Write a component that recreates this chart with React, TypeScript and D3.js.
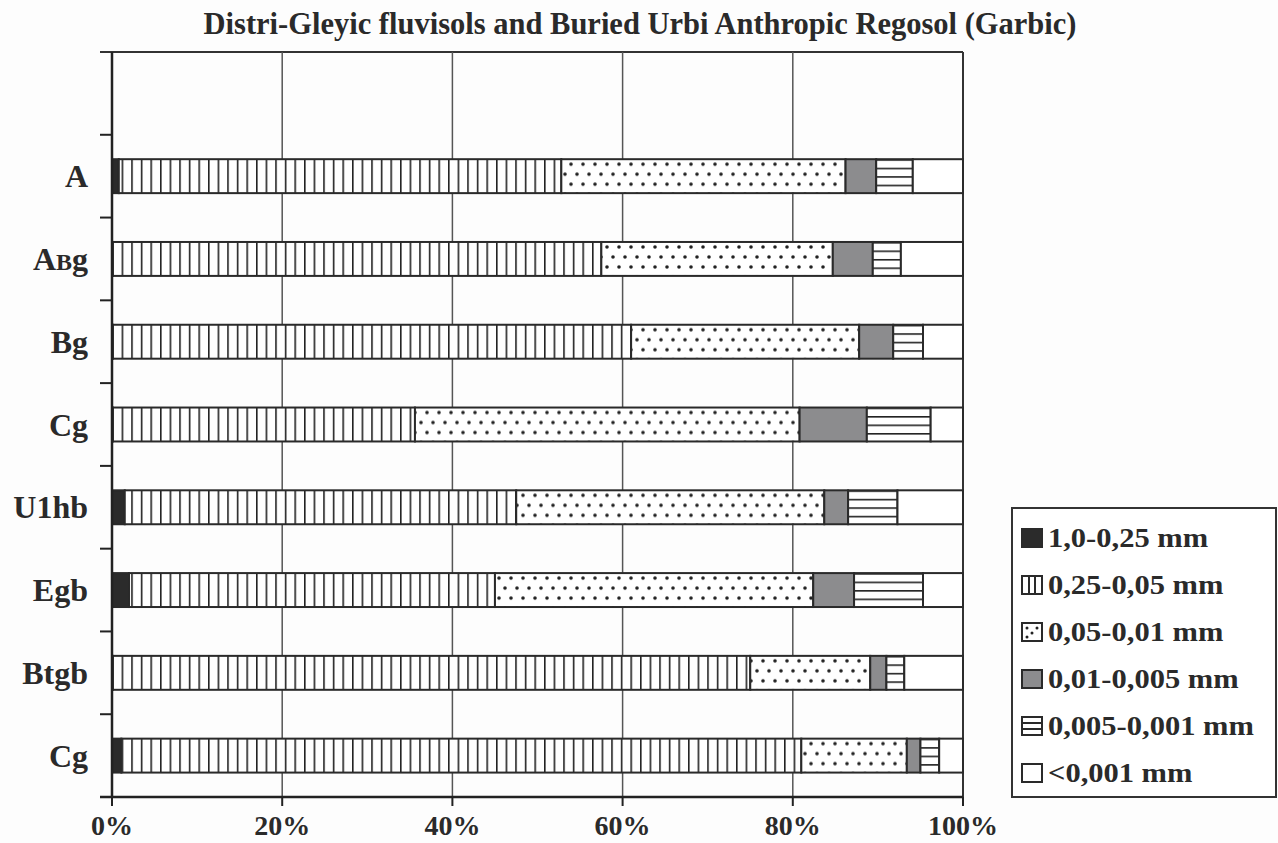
import * as d3 from 'd3';

// horizons (top band is left empty in the original)
const horizons = ['', 'A', 'ABg', 'Bg', 'Cg', 'U1hb', 'Egb', 'Btgb', 'Cg'];

const fractions = ['1,0-0,25 mm', '0,25-0,05 mm', '0,05-0,01 mm', '0,01-0,005 mm', '0,005-0,001 mm', '<0,001 mm'];

// percent of each fraction per horizon
const fr1 = [0, 0.8, 0.1, 0.1, 0.1, 1.5, 2.0, 0.1, 1.1];
const fr2 = [0, 52.0, 57.4, 60.9, 35.5, 46.0, 43.0, 74.9, 79.9];
const fr3 = [0, 33.4, 27.2, 26.8, 45.2, 36.2, 37.4, 14.1, 12.4];
const fr4 = [0, 3.6, 4.7, 4.0, 7.9, 2.8, 4.8, 1.9, 1.6];
const fr5 = [0, 4.3, 3.3, 3.5, 7.5, 5.8, 8.1, 2.1, 2.2];
const xTicks = [0, 20, 40, 60, 80, 100];

const W = 1278;
const H = 843;
const fills = ['#2b2b2b', 'url(#vstripe)', 'dots', '#8c8c8e', 'hstripe', '#ffffff'];

export default function App() {
  const x = d3.scaleLinear().domain([0, 100]).range([112, 963]);
  const y = d3.scaleBand<number>()
    .domain(horizons.map((_, i) => i))
    .range([52, 797])
    .paddingInner(0.59)
    .paddingOuter(0.295);
  const step = y.step();
  const bh = y.bandwidth();

  const rows = horizons.map((name, i) => {
    const vals = [fr1[i], fr2[i], fr3[i], fr4[i], fr5[i]];
    const total = d3.sum(vals);
    const all = name ? [...vals, 100 - total] : [];
    let acc = 0;
    const segs = all.map((v, k) => {
      const s = { k, x0: acc, x1: acc + v };
      acc += v;
      return s;
    });
    return { name, i, segs };
  });

  const font = '"Liberation Serif", "Times New Roman", serif';
  const legendY0 = 538;
  const legendStep = 47;
  const ink = '#2a2a2a';

  return (
    <svg width={W} height={H} style={{ position: 'absolute', left: 0, top: 0, background: '#fdfdfd' }} fontFamily={font}>
      <defs>
        <pattern id="vstripe" patternUnits="userSpaceOnUse" x={x(0)} width={9.6} height={10}>
          <rect width={9.6} height={10} fill="#fff" />
          <line x1={0} x2={0} y1={0} y2={10} stroke="#222" strokeWidth={3.2} />
        </pattern>
        {rows.map(r => (
          <g key={'p' + r.i}>
            <pattern id={`dots-${r.i}`} patternUnits="userSpaceOnUse" x={x(0)} y={y(r.i)} width={12} height={20}>
              <rect width={12} height={20} fill="#fff" />
              <circle cx={3} cy={5} r={1.8} fill="#222" />
              <circle cx={9} cy={15} r={1.8} fill="#222" />
            </pattern>
            <pattern id={`hstripe-${r.i}`} patternUnits="userSpaceOnUse" x={0} y={y(r.i)} width={20} height={bh / 4}>
              <rect width={20} height={bh / 4} fill="#fff" />
              <line x1={0} x2={20} y1={0} y2={0} stroke="#222" strokeWidth={3.2} />
            </pattern>
          </g>
        ))}
      </defs>

      {/* title */}
      <text x={640} y={34} textAnchor="middle" fontSize={30.5} fontWeight="bold" fill={ink}>
        Distri-Gleyic fluvisols and Buried Urbi Anthropic Regosol (Garbic)
      </text>

      {/* frame and grid */}
      <line x1={x(0) - 12} x2={x(100)} y1={52} y2={52} stroke="#333" strokeWidth={2} />
      <line x1={x(100)} x2={x(100)} y1={52} y2={797} stroke="#333" strokeWidth={2} />
      {xTicks.slice(1, -1).map(t => (
        <line key={'g' + t} x1={x(t)} x2={x(t)} y1={52} y2={797} stroke="#555" strokeWidth={1.5} />
      ))}

      {/* bars */}
      {rows.map(r => (
        <g key={'r' + r.i}>
          {r.segs.filter(s => s.x1 - s.x0 > 0.05).map(s => {
            let f = fills[s.k];
            if (f === 'dots') f = `url(#dots-${r.i})`;
            if (f === 'hstripe') f = `url(#hstripe-${r.i})`;
            return (
              <rect key={s.k} x={x(s.x0)} y={y(r.i)} width={x(s.x1) - x(s.x0)} height={bh}
                fill={f} stroke={ink} strokeWidth={2} />
            );
          })}
        </g>
      ))}

      {/* axes */}
      <line x1={x(0)} x2={x(0)} y1={52} y2={797} stroke="#222" strokeWidth={2.5} />
      <line x1={x(0) - 12} x2={x(100)} y1={797} y2={797} stroke="#222" strokeWidth={2.5} />
      {d3.range(1, horizons.length).map(k => (
        <line key={'yt' + k} x1={x(0) - 12} x2={x(0)} y1={52 + k * step} y2={52 + k * step} stroke="#222" strokeWidth={2} />
      ))}
      {xTicks.map(t => (
        <g key={'xt' + t}>
          <line x1={x(t)} x2={x(t)} y1={797} y2={806} stroke="#222" strokeWidth={2} />
          <text x={x(t)} y={835} textAnchor="middle" fontSize={28} fontWeight="bold" fill={ink}>{t}%</text>
        </g>
      ))}
      {rows.filter(r => r.name).map(r => (
        <text key={'yl' + r.i} x={88} y={y(r.i)! + bh / 2 + 11} textAnchor="end" fontSize={32} fontWeight="bold" fill={ink}>
          {r.name === 'ABg' ? (<><tspan>A</tspan><tspan fontSize={24}>B</tspan><tspan>g</tspan></>) : r.name}
        </text>
      ))}

      {/* legend */}
      <rect x={1012} y={508} width={264} height={289} fill="#fff" stroke="#333" strokeWidth={2} />
      {fractions.map((f, k) => {
        const cy = legendY0 + k * legendStep;
        const fill = fills[k];
        return (
          <g key={'lg' + k}>
            {k === 2 ? (
              <g>
                <rect x={1022} y={cy - 9} width={20} height={18} fill="#fff" stroke={ink} strokeWidth={2} />
                <circle cx={1027} cy={cy - 4} r={1.5} fill="#222" />
                <circle cx={1037} cy={cy - 4} r={1.5} fill="#222" />
                <circle cx={1032} cy={cy + 1} r={1.5} fill="#222" />
                <circle cx={1027} cy={cy + 5} r={1.5} fill="#222" />
              </g>
            ) : k === 4 ? (
              <g>
                <rect x={1022} y={cy - 9} width={20} height={18} fill="#fff" stroke={ink} strokeWidth={2} />
                <line x1={1022} x2={1042} y1={cy - 3} y2={cy - 3} stroke={ink} strokeWidth={2} />
                <line x1={1022} x2={1042} y1={cy + 3} y2={cy + 3} stroke={ink} strokeWidth={2} />
              </g>
            ) : k === 1 ? (
              <g>
                <rect x={1022} y={cy - 9} width={20} height={18} fill="#fff" stroke={ink} strokeWidth={2} />
                <line x1={1029} x2={1029} y1={cy - 9} y2={cy + 9} stroke={ink} strokeWidth={2} />
                <line x1={1035} x2={1035} y1={cy - 9} y2={cy + 9} stroke={ink} strokeWidth={2} />
              </g>
            ) : (
              <rect x={1022} y={cy - 9} width={20} height={18} fill={fill} stroke={ink} strokeWidth={2} />
            )}
            <text transform={`translate(1048,${cy + 9}) scale(1.09,1)`} fontSize={28} fontWeight="bold" fill={ink}>{f}</text>
          </g>
        );
      })}
    </svg>
  );
}
